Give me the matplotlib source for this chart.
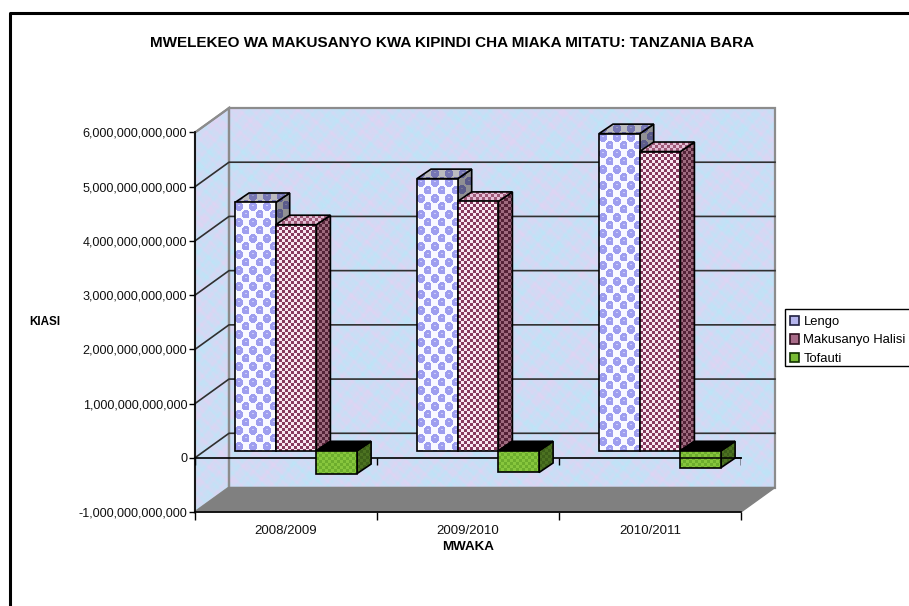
import numpy as np
import matplotlib
matplotlib.use("Agg")
import matplotlib.pyplot as plt
from matplotlib.lines import Line2D
from matplotlib.patches import Patch, Polygon, Rectangle

plt.rcParams['font.family'] = ['Liberation Sans', 'DejaVu Sans']

# data
years = ['2008/2009', '2009/2010', '2010/2011']
series = ['Lengo', 'Makusanyo Halisi', 'Tofauti']
lengo = [4.58e12, 5.02e12, 5.85e12]
halisi = [4.17e12, 4.60e12, 5.52e12]
tofauti = [-0.42e12, -0.40e12, -0.31e12]
yticks = [-1e12, 0, 1e12, 2e12, 3e12, 4e12, 5e12, 6e12]

W, H = 909, 606
fig = plt.figure(figsize=(W/100, H/100), dpi=100)

# front plane of the 3d box, in pixels
L, R, T, B = 195, 741, 132.5, 512
ax = fig.add_axes([L/W, 1-B/H, (R-L)/W, (B-T)/H])
ax.set_xlim(0, 3)
ax.set_ylim(yticks[0], yticks[-1])
ax.set_autoscale_on(False)
ax.patch.set_visible(False)

PX = 3/(R-L)                  # data per pixel, x
PY = (yticks[-1]-yticks[0])/(B-T)  # data per pixel, y


def px(n):
    return n*PX


def py(n):
    return n*PY


def mottled(w, h):
    yy, xx = np.mgrid[0:h, 0:w]
    n = (0.5*np.sin(xx*0.043+yy*0.071) + 0.5*np.sin(xx*0.097-yy*0.061+1)
         + 0.5*np.sin(xx*0.21+yy*0.17) + 0.5*np.sin(xx*0.19-yy*0.29+2)
         + 0.6*np.sin(xx*0.47+yy*0.37) + 0.6*np.sin(xx*0.41-yy*0.59)
         + 0.4*np.sin(xx*0.83+yy*0.71) + 0.4*np.sin(xx*0.97-yy*0.89))
    n = np.clip((n+2.4)/4.8, 0, 1)[..., None]
    c1 = np.array([190, 228, 247])/255
    c2 = np.array([222, 212, 243])/255
    return c1*(1-n) + c2*n


def bubbles(w, h, fac=1.0):
    tile = np.ones((16, 14, 3))
    tile[:] = [0.98, 0.98, 1.0]
    yy, xx = np.mgrid[0:16, 0:14]
    for cx, cy in [(3.5, 4), (10.5, 12)]:
        d = np.hypot(xx-cx, yy-cy)
        tile[d < 4.4] = [0.62, 0.62, 0.94]
        tile[(d < 1.7) & (yy < cy)] = [0.80, 0.80, 0.98]
    arr = np.tile(tile, (h//16+1, w//14+1, 1))[:h, :w]
    return arr*fac


def checker(w, h, dark, light, cell=3):
    yy, xx = np.mgrid[0:h, 0:w]
    return np.where((((xx//cell)+(yy//cell)) % 2 == 0)[..., None], np.array(dark), np.array(light))


def maroon(w, h, part='front'):
    cols = {'front': ((0.53, 0.23, 0.37), (0.98, 0.91, 0.95)),
            'top': ((0.62, 0.35, 0.47), (0.90, 0.75, 0.84)),
            'side': ((0.33, 0.14, 0.22), (0.62, 0.42, 0.50))}
    return checker(w, h, *cols[part])


def green(w, h, part='front'):
    cols = {'front': ((0.43, 0.68, 0.18), (0.53, 0.78, 0.24)),
            'side': ((0.24, 0.38, 0.10), (0.30, 0.45, 0.13))}
    return checker(w, h, *cols[part])


def blue(w, h, part='front'):
    return bubbles(w, h, {'front': 1.0, 'top': 0.75, 'side': 0.58}[part])


def textured(pts, make, z, edge='black', lw=1.2, **kw):
    # fills a polygon (data coords) with a pixel texture
    pts = np.array(pts)
    x0, x1, y0, y1 = pts[:, 0].min(), pts[:, 0].max(), pts[:, 1].min(), pts[:, 1].max()
    w = max(int(np.ceil((x1-x0)/PX)), 1)
    h = max(int(np.ceil((y1-y0)/PY)), 1)
    im = ax.imshow(make(w, h, **kw), extent=(x0, x1, y0, y1), aspect='auto', origin='upper',
                   interpolation='nearest', zorder=z)
    poly = Polygon(pts, closed=True, transform=ax.transData, fc='none', ec=edge, lw=lw,
                   zorder=z+0.1, clip_on=False, joinstyle='miter')
    ax.add_patch(poly)
    im.set_clip_path(poly)
    im.set_clip_box(fig.bbox)


def flat(pts, color, z, edge='black', lw=1.2):
    ax.add_patch(Polygon(pts, closed=True, fc=color, ec=edge, lw=lw, zorder=z, clip_on=False,
                         joinstyle='miter'))


# box depth, and where the bars stand inside it
dx, dy = px(34), py(24.5)
ox, oy = px(10), py(7)
bx, by = px(14), py(9.5)
ymin, ymax = yticks[0], yticks[-1]

# walls
textured([(dx, ymin+dy), (3+dx, ymin+dy), (3+dx, ymax+dy), (dx, ymax+dy)], mottled, 1, edge='#8c8c8c', lw=1.6)
textured([(0, ymin), (dx, ymin+dy), (dx, ymax+dy), (0, ymax)], mottled, 1, edge='#8c8c8c', lw=1.6)
flat([(0, ymin), (3, ymin), (3+dx, ymin+dy), (dx, ymin+dy)], '#808080', 2, edge='#808080', lw=1)

# gridlines on both walls
for v in yticks[2:-1] + [0]:
    ax.plot([0, dx, 3+dx], [v, v+dy, v+dy], color='#303030', lw=1.2, zorder=3, clip_on=False)
ax.plot([0, dx], [ymax, ymax+dy], color='#8c8c8c', lw=1.4, zorder=3, clip_on=False)

# zero line of the category axis, front plane
ax.plot([0, 3], [0, 0], color='black', lw=1.2, zorder=4, clip_on=False)
ax.vlines([0, 1, 2, 3], 0, -py(7), color='black', lw=1, zorder=4)

barw = px(40.7)
pad = px(30)
z = 5
makers = [blue, maroon, green]
for i in range(len(years)):
    for j, vals in enumerate([lengo, halisi, tofauti]):
        v = vals[i]
        x0 = i + pad + j*barw + ox
        x1 = x0 + barw
        lo, hi = min(v, 0)+oy, max(v, 0)+oy
        # side
        textured([(x1, lo), (x1+bx, lo+by), (x1+bx, hi+by), (x1, hi)], makers[j], z, part='side')
        # top
        if j == 2:
            flat([(x0, hi), (x1, hi), (x1+bx, hi+by), (x0+bx, hi+by)], 'black', z+0.2)
        else:
            textured([(x0, hi), (x1, hi), (x1+bx, hi+by), (x0+bx, hi+by)], makers[j], z+0.2, part='top')
        # front
        textured([(x0, lo), (x1, lo), (x1, hi), (x0, hi)], makers[j], z+0.4)
        z += 1

# the zero line shows through the last green bar only
ax.plot([2 + pad + 2*barw + ox, 3], [0, 0], color='black', lw=1.1, zorder=z, clip_on=False)
ax.vlines([3], 0, -py(7), color='black', lw=1, zorder=z)

# axes
for s in ['top', 'right']:
    ax.spines[s].set_visible(False)
for s in ['left', 'bottom']:
    ax.spines[s].set_linewidth(1.2)
    ax.spines[s].set_zorder(40)
ax.set_yticks(yticks)
ax.set_yticklabels(['{:,.0f}'.format(v) for v in yticks])
ax.set_xticks([0, 1, 2, 3])
ax.set_xticklabels([])
ax.set_xticks([0.5, 1.5, 2.5], minor=True)
ax.set_xticklabels(years, minor=True)
ax.tick_params(axis='x', which='major', length=6, width=1)
ax.tick_params(axis='x', which='minor', length=0, pad=9, labelsize=9.5, labelcolor='#111111')
ax.tick_params(axis='y', length=4, width=1, pad=1.5, labelsize=9.05, labelcolor='#111111')


def ftext(x, y, s, **kw):
    fig.text(x/W, 1-y/H, s, ha='center', va='center', **kw)


ftext(452, 43, 'MWELEKEO WA MAKUSANYO KWA KIPINDI CHA MIAKA MITATU: TANZANIA BARA',
      fontsize=11, fontweight='bold')
ftext(45, 322, 'KIASI', fontsize=8.4, fontweight='bold')
ftext(468, 547, 'MWAKA', fontsize=9.6, fontweight='bold')

# chart border, runs off the image at the right and bottom
fig.add_artist(Line2D([10/W, 10/W, 1], [0, 1-13/H, 1-13/H], color='black', lw=2.2,
                      transform=fig.transFigure))

handles = [Patch(fc='#b4b4ec', ec='#202040', lw=1.2),
           Patch(fc='#a86a88', ec='#301020', lw=1.2),
           Patch(fc='#78bb34', ec='#103000', lw=1.2)]
leg = fig.legend(handles, series, loc='upper left', bbox_to_anchor=(784/W, 1-310/H),
                 borderaxespad=0, fontsize=9.4, frameon=False, handlelength=0.72,
                 handleheight=0.72, handletextpad=0.32, labelspacing=0.47, borderpad=0.45)
fig.add_artist(Rectangle((785/W, 1-366/H), 140/W, 57/H, fc='white', ec='black', lw=1,
                         transform=fig.transFigure, zorder=0.5))
leg.set_zorder(5)

fig.savefig('out.png', dpi=100)
